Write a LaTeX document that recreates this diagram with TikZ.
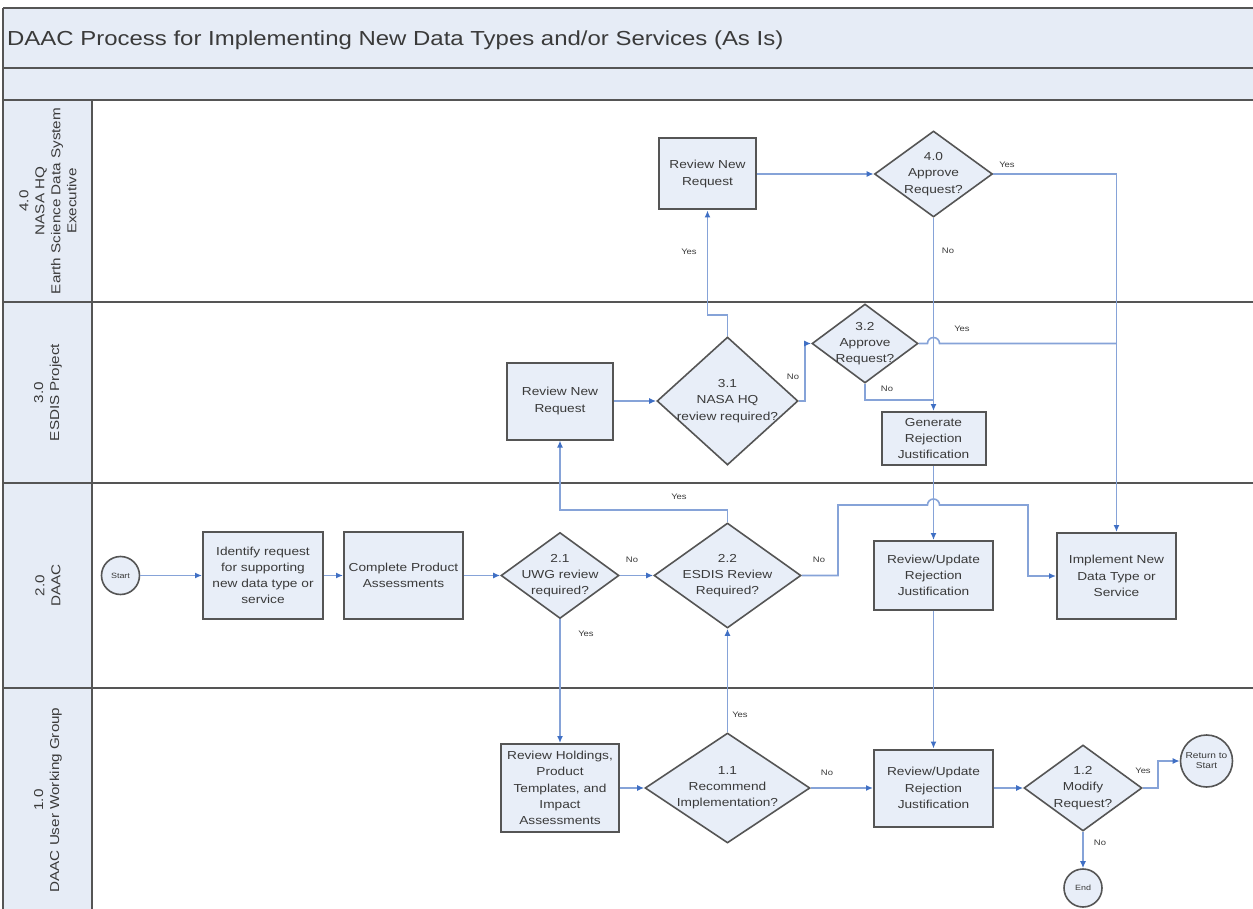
\documentclass[tikz,border=0pt]{standalone}
\usepackage{fontspec}
\setmainfont{Liberation Sans}[FakeStretch=1.18]
\usetikzlibrary{shapes.geometric,arrows.meta}
\definecolor{bandfill}{HTML}{E6ECF6}
\definecolor{boxfill}{HTML}{E8EEF8}
\definecolor{edgegray}{HTML}{555555}
\definecolor{conn}{HTML}{86A3D8}
\definecolor{tipblue}{HTML}{3F6FC4}
\definecolor{txtgray}{HTML}{3A3A3A}
\begin{document}
\begin{tikzpicture}[x=1pt,y=-1pt,
  proc/.style={rectangle, draw=edgegray, line width=2pt, fill=boxfill, inner sep=0, align=center,
    font=\fontsize{11.6}{16.2}\selectfont, text=txtgray},
  dec/.style={diamond, draw=edgegray, line width=1.6pt, fill=boxfill, inner sep=0},
  dtxt/.style={align=center, inner sep=0, font=\fontsize{11.6}{16.2}\selectfont, text=txtgray},
  term/.style={circle, draw=edgegray, line width=1.6pt, fill=boxfill, inner sep=0, align=center,
    font=\fontsize{7.6}{9}\selectfont, text=txtgray},
  flow/.style={draw=conn, line width=1.6pt, -{Latex[length=7pt,width=6pt,color=tipblue]}},
  plainflow/.style={draw=conn, line width=1.6pt},
  lbl/.style={font=\fontsize{8}{9}\selectfont, text=txtgray, inner sep=0},
  lanelbl/.style={rotate=90, align=center, inner sep=0, font=\fontsize{12.9}{16}\selectfont, text=txtgray},
  laneline/.style={draw=edgegray, line width=2.2pt},
]
\useasboundingbox (0,0) rectangle (1253,909);
\fill[white] (0,0) rectangle (1253,909);
% bands and lanes
\fill[bandfill] (3,8) rectangle (1253,100);
\fill[bandfill] (3,100) rectangle (92,909);
\draw[laneline] (3,8) -- (1253,8);
\draw[laneline] (3,68) -- (1253,68);
\draw[laneline] (3,100) -- (1253,100);
\draw[laneline] (3,302) -- (1253,302);
\draw[laneline] (3,483) -- (1253,483);
\draw[laneline] (3,688) -- (1253,688);
\draw[laneline] (3,8) -- (3,909);
\draw[laneline] (92,100) -- (92,909);
\node[anchor=west, inner sep=0, font=\fontsize{20.3}{24}\selectfont, text=txtgray] (title) at (7,40)
  {DAAC Process for Implementing New Data Types and/or Services (As Is)};
\node[lanelbl] (lane4) at (48,201) {4.0\\NASA HQ\\Earth Science Data System\\Executive};
\node[lanelbl] (lane3) at (48,392.5) {3.0\\ESDIS Project};
\node[lanelbl] (lane2) at (48,585.5) {2.0\\DAAC};
\node[lanelbl] (lane1) at (48,800) {1.0\\DAAC User Working Group};
% nodes
\node[term, minimum size=38pt] (start) at (120.5,575.5) {Start};
\node[proc, minimum width=120pt, minimum height=87pt] (ident) at (263,575.5) {Identify request\\for supporting\\new data type or\\service};
\node[proc, minimum width=119pt, minimum height=87pt] (compl) at (403.5,575.5) {Complete Product\\Assessments};
\node[dec, minimum width=118pt, minimum height=86pt, label={[dtxt]center:{2.1\\UWG review\\required?}}] (d21) at (560,575.5) {};
\node[dec, minimum width=147pt, minimum height=105pt, label={[dtxt]center:{2.2\\ESDIS Review\\Required?}}] (d22) at (727.5,575.5) {};
\node[proc, minimum width=119pt, minimum height=69pt] (rev2) at (933.5,575.5) {Review/Update\\Rejection\\Justification};
\node[proc, minimum width=119pt, minimum height=86pt] (impl) at (1116.5,576) {Implement New\\Data Type or\\Service};
\node[proc, minimum width=106pt, minimum height=77pt] (esdisbox) at (560,401) {Review New\\Request};
\node[dec, minimum width=141pt, minimum height=128pt, label={[dtxt]center:{3.1\\NASA HQ\\review required?}}] (d31) at (727.5,401) {};
\node[dec, minimum width=106pt, minimum height=79pt, label={[dtxt]center:{3.2\\Approve\\Request?}}] (d32) at (865,343.5) {};
\node[proc, minimum width=104pt, minimum height=53pt] (gen) at (933.5,438.5) {Generate\\Rejection\\Justification};
\node[proc, minimum width=97pt, minimum height=71pt] (nasabox) at (707.5,174) {Review New\\Request};
\node[dec, minimum width=118pt, minimum height=86pt, label={[dtxt]center:{4.0\\Approve\\Request?}}] (d40) at (933.5,174) {};
\node[proc, minimum width=118pt, minimum height=88pt] (hold) at (560,788) {Review Holdings,\\Product\\Templates, and\\Impact\\Assessments};
\node[dec, minimum width=165pt, minimum height=110pt, label={[dtxt]center:{1.1\\Recommend\\Implementation?}}] (d11) at (727.5,788) {};
\node[proc, minimum width=119pt, minimum height=77pt] (rev1) at (933.5,788) {Review/Update\\Rejection\\Justification};
\node[dec, minimum width=118pt, minimum height=86pt, label={[dtxt]center:{1.2\\Modify\\Request?}}] (d12) at (1083,788) {};
\node[term, minimum size=52pt, font=\fontsize{8.6}{10}\selectfont] (ret) at (1206.5,761) {Return to\\Start};
\node[term, minimum size=38pt] (endn) at (1083,888) {End};
\coordinate (j1) at (933.5,400);
\coordinate (j2) at (1116.5,343.5);
% connectors
\draw[flow] (start) -- (ident);
\draw[flow] (ident) -- (compl);
\draw[flow] (compl) -- (d21);
\draw[flow] (d21) -- (d22);
\draw[flow] (d21.south) -- (hold.north);
\draw[flow] (hold) -- (d11);
\draw[flow] (d11.north) -- (d22.south);
\draw[flow] (d11) -- (rev1);
\draw[flow] (rev1) -- (d12);
\draw[flow] (d12.east) -- ++(15,0) |- (ret.west);
\draw[flow] (d12.south) -- (endn.north);
\draw[flow] (d22.north) -- ++(0,-12.5) -| (esdisbox.south);
\draw[flow] (d22.east) -- (838,575.5) -- (838,505) -- (927.5,505) arc (180:360:6) -- (1028,505) |- (impl.west);
\draw[flow] (esdisbox) -- (d31);
\draw[flow] (d31.north) -- (727.5,315) -| (nasabox.south);
\draw[flow] (d31.east) -- (805,401) |- (d32.west);
\draw[plainflow] (d32.south) |- (j1);
\draw[plainflow] (d32.east) -- (927.5,343.5) arc (180:360:6) -- (j2);
\draw[flow] (nasabox) -- (d40);
\draw[flow] (d40.south) -- (gen.north);
\draw[flow] (d40.east) -| (impl.north);
\draw[flow] (gen.south) -- (rev2.north);
\draw[flow] (rev2.south) -- (rev1.north);
% labels
\node[lbl] (l1) at (632,560) {No};
\node[lbl] (l2) at (586,634) {Yes};
\node[lbl] (l3) at (740,715) {Yes};
\node[lbl] (l4) at (827,773) {No};
\node[lbl] (l5) at (1143,771) {Yes};
\node[lbl] (l6) at (1100,843) {No};
\node[lbl] (l7) at (679,497) {Yes};
\node[lbl] (l8) at (819,560) {No};
\node[lbl] (l9) at (689,252) {Yes};
\node[lbl] (l10) at (793,377) {No};
\node[lbl] (l11) at (887,389) {No};
\node[lbl] (l12) at (962,329) {Yes};
\node[lbl] (l13) at (948,251) {No};
\node[lbl] (l14) at (1007,165) {Yes};
\end{tikzpicture}
\end{document}
